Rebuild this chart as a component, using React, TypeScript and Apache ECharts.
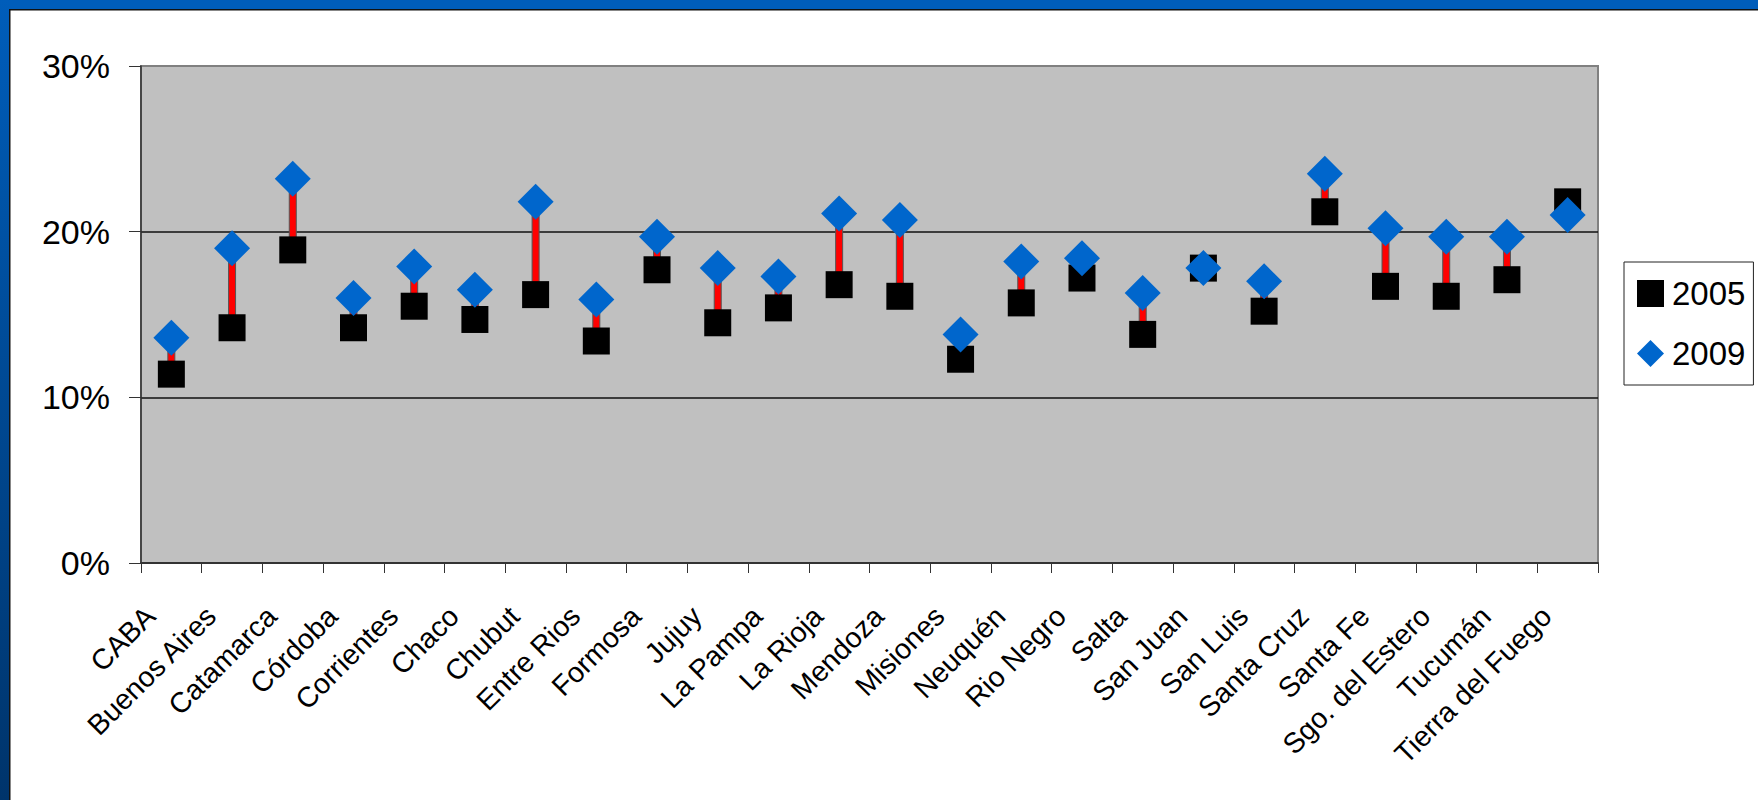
import React, { useEffect, useRef } from "react";
import * as echarts from "echarts";

// Provinces along the category axis
const provinces = [
  "CABA",
  "Buenos Aires",
  "Catamarca",
  "Córdoba",
  "Corrientes",
  "Chaco",
  "Chubut",
  "Entre Rios",
  "Formosa",
  "Jujuy",
  "La Pampa",
  "La Rioja",
  "Mendoza",
  "Misiones",
  "Neuquén",
  "Rio Negro",
  "Salta",
  "San Juan",
  "San Luis",
  "Santa Cruz",
  "Santa Fe",
  "Sgo. del Estero",
  "Tucumán",
  "Tierra del Fuego",
];

// Percent values per province
const values2005 = [
  11.4, 14.2, 18.9, 14.2, 15.5, 14.7, 16.2, 13.4, 17.7, 14.5, 15.4, 16.8,
  16.1, 12.3, 15.7, 17.2, 13.8, 17.8, 15.2, 21.2, 16.7, 16.1, 17.1, 21.8,
];
const values2009 = [
  13.6, 19.0, 23.2, 16.0, 17.9, 16.5, 21.8, 15.9, 19.7, 17.8, 17.3, 21.1,
  20.7, 13.8, 18.2, 18.4, 16.3, 17.8, 17.0, 23.5, 20.2, 19.7, 19.7, 21.0,
];

const seriesNames = ["2005", "2009"];
const yTicks = { min: 0, max: 30, interval: 10 };

const FONT = "'Liberation Sans', Arial, Helvetica, sans-serif";

export default function App() {
  const ref = useRef<HTMLDivElement>(null);

  useEffect(() => {
    if (!ref.current) return;
    const chart = echarts.init(ref.current, null, { renderer: "svg" });

    const rangeData = provinces.map((_, i) => [i, values2005[i], values2009[i]]);

    chart.setOption({
      animation: false,
      backgroundColor: "#ffffff",
      textStyle: { fontFamily: FONT },
      graphic: [
        // slide frame: blue band on top and on the left, thin dark rule inside
        {
          type: "rect",
          left: 0,
          top: 0,
          shape: { width: 1758, height: 9 },
          style: { fill: "#005DBA" },
          silent: true,
        },
        {
          type: "rect",
          left: 0,
          top: 0,
          shape: { width: 9, height: 800 },
          style: {
            fill: new echarts.graphic.LinearGradient(0, 0, 0, 1, [
              { offset: 0, color: "#005DBA" },
              { offset: 1, color: "#00346B" },
            ]),
          },
          silent: true,
        },
        {
          type: "rect",
          left: 9,
          top: 9,
          shape: { width: 1749, height: 1.5 },
          style: { fill: "#111111" },
          silent: true,
        },
        {
          type: "rect",
          left: 9,
          top: 9,
          shape: { width: 1.5, height: 791 },
          style: { fill: "#111111" },
          silent: true,
        },
      ],
      grid: {
        left: 141,
        right: 160,
        top: 66,
        bottom: 237,
        show: true,
        backgroundColor: "#C0C0C0",
        borderColor: "#808080",
        borderWidth: 2,
        outerBoundsMode: "none",
      },
      legend: {
        data: seriesNames,
        orient: "vertical",
        left: 1624,
        top: 262,
        padding: [15, 8, 15, 13],
        itemGap: 27,
        itemWidth: 27,
        itemHeight: 27,
        borderColor: "#222222",
        borderWidth: 1,
        backgroundColor: "#ffffff",
        itemStyle: { opacity: 1 },
        textStyle: {
          fontSize: 33,
          color: "#000000",
          fontFamily: FONT,
          padding: [0, 0, 0, 3],
        },
      },
      xAxis: {
        type: "category",
        data: provinces,
        boundaryGap: true,
        axisLine: { show: true, lineStyle: { color: "#333333", width: 2 } },
        axisTick: {
          show: true,
          interval: 0,
          length: 10,
          lineStyle: { color: "#333333", width: 1 },
        },
        axisLabel: {
          interval: 0,
          rotate: 45,
          margin: 27,
          fontSize: 28.5,
          color: "#000000",
          fontFamily: FONT,
          padding: [0, 30, 0, 0],
        },
        splitLine: { show: false },
      },
      yAxis: {
        type: "value",
        min: yTicks.min,
        max: yTicks.max,
        interval: yTicks.interval,
        axisLine: { show: true, lineStyle: { color: "#333333", width: 1.5 } },
        axisTick: {
          show: true,
          length: 12,
          lineStyle: { color: "#333333", width: 1 },
        },
        axisLabel: {
          formatter: "{value}%",
          margin: 31,
          fontSize: 34,
          color: "#000000",
          fontFamily: FONT,
        },
        splitLine: {
          show: true,
          lineStyle: {
            color: ["#808080", "#111111", "#111111", "#808080"],
            width: 1.5,
          },
        },
      },
      series: [
        {
          name: "change",
          type: "custom",
          z: 1,
          silent: true,
          data: rangeData,
          encode: { x: 0, y: [1, 2] },
          renderItem: (params: any, api: any) => {
            const a = api.coord([api.value(0), api.value(1)]);
            const b = api.coord([api.value(0), api.value(2)]);
            const top = Math.min(a[1], b[1]);
            const h = Math.abs(a[1] - b[1]);
            return {
              type: "rect",
              shape: { x: a[0] - 3.5, y: top, width: 7, height: h },
              style: { fill: "#FF0000", stroke: "#555555", lineWidth: 1 },
            };
          },
        },
        {
          name: seriesNames[0],
          type: "scatter",
          z: 2,
          symbol: "rect",
          symbolSize: 27,
          itemStyle: { color: "#000000", opacity: 1 },
          emphasis: { disabled: true },
          data: values2005,
        },
        {
          name: seriesNames[1],
          type: "scatter",
          z: 3,
          symbol: "diamond",
          symbolSize: 36,
          itemStyle: { color: "#0066CC", opacity: 1 },
          emphasis: { disabled: true },
          data: values2009,
        },
      ],
    });

    return () => chart.dispose();
  }, []);

  return (
    <div
      ref={ref}
      style={{ position: "absolute", left: 0, top: 0, width: 1758, height: 800 }}
    />
  );
}
